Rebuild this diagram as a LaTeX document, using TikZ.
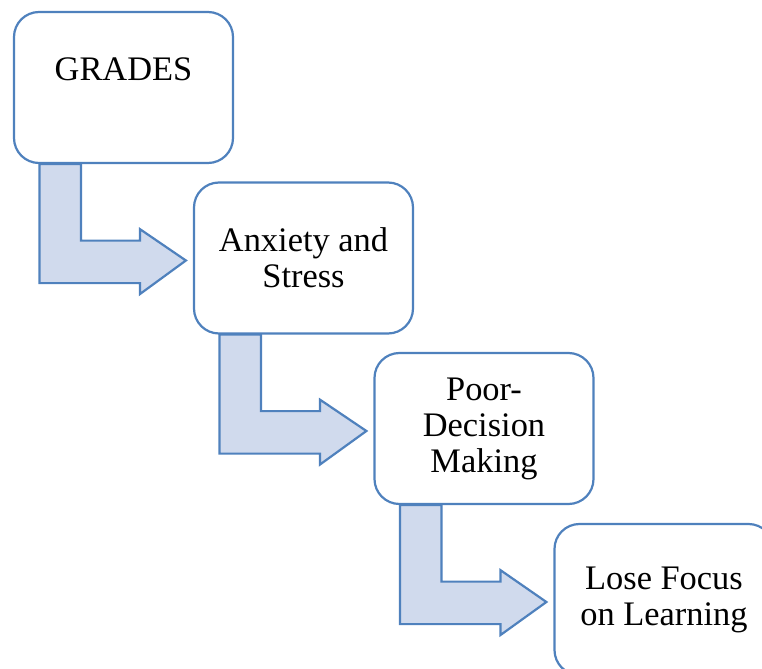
\documentclass[tikz,border=0pt]{standalone}
\usepackage{fontspec}
\setmainfont{Liberation Serif}
\usetikzlibrary{calc,backgrounds}
\definecolor{box_blue}{RGB}{79, 129, 189}
\definecolor{arrow_fill}{RGB}{208, 218, 237}
\tikzstyle{bx}=[rectangle,rounded corners=12.5pt,fill=white,draw=box_blue,
  line width=1.1pt,align=center,minimum width=109.5pt,minimum height=75.5pt,
  font=\fontsize{17.2}{18}\selectfont]
\tikzstyle{ba}=[fill=arrow_fill,draw=box_blue,line width=1.1pt,line join=miter]
% bent block arrow from the bottom of #1 to the left side of #2
\newcommand{\bentarrow}[2]{%
  \draw[ba] ($(#1.south west)+(26.5,0)$) -- ($(#1.south west)+(26.5,119)$)
    -- ($(#1.south west)+(127,119)$) -- ($(#1.south west)+(127,130)$)
    -- ($(#2.west)+(-7,2.5)$)
    -- ($(#1.south west)+(127,65)$) -- ($(#1.south west)+(127,76.5)$)
    -- ($(#1.south west)+(68,76.5)$) -- ($(#1.south west)+(68,0)$) -- cycle;}

\begin{document}
\begin{tikzpicture}[x=0.5pt,y=-0.5pt]
    \clip (0,0) rectangle (762,669);
    \node [style=bx] (1) at (123.5, 87.5) {GRADES\\~};
    \node [style=bx] (2) at (303.5, 258) {Anxiety and\\Stress};
    \node [style=bx] (3) at (484, 428.5) {Poor-\\Decision\\Making};
    \node [style=bx] (4) at (664, 599.5) {Lose Focus\\on Learning};
    \begin{scope}[on background layer]
    \bentarrow{1}{2}
    \bentarrow{2}{3}
    \bentarrow{3}{4}
    \end{scope}
\end{tikzpicture}
\end{document}
